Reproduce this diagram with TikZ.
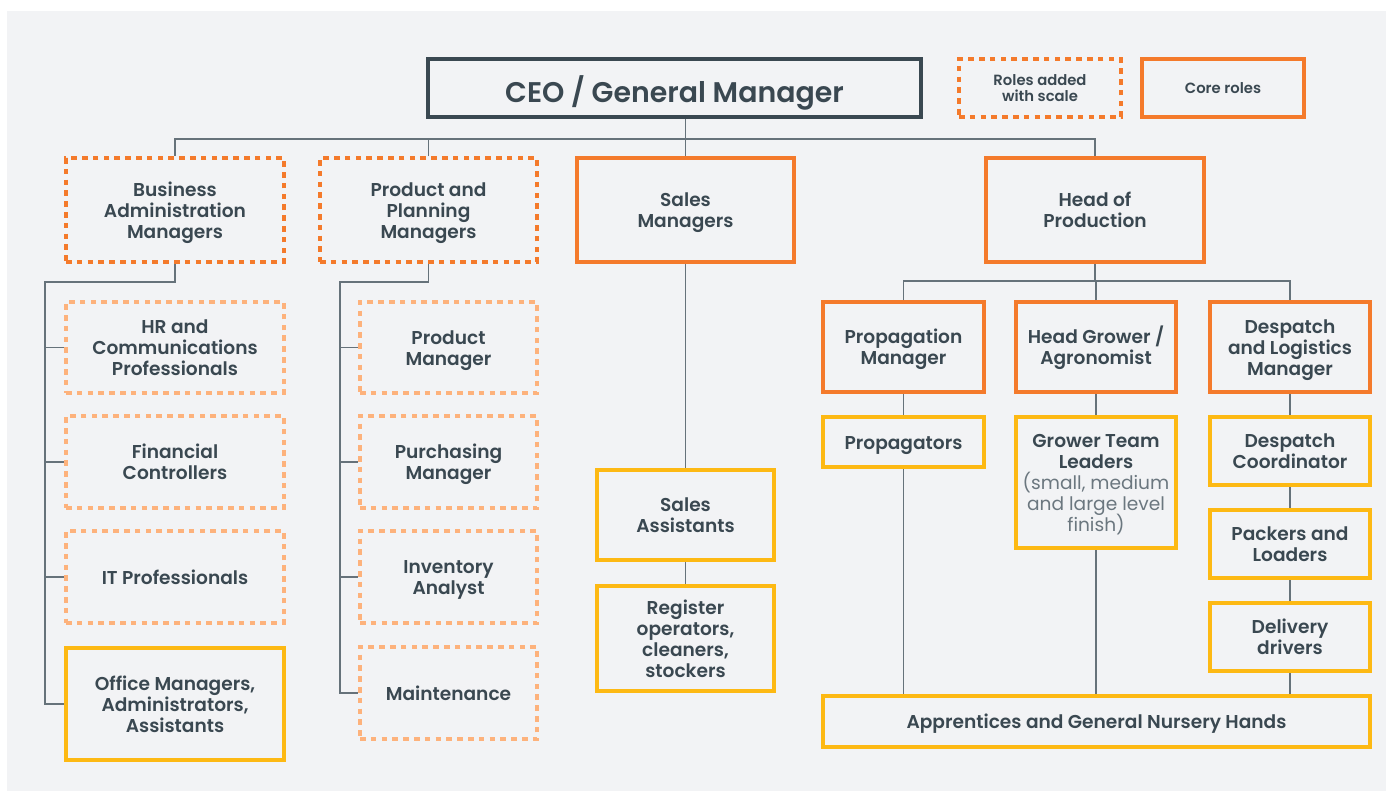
\documentclass[tikz,border=0pt]{standalone}
\usepackage{fontspec}
\setmainfont{Poppins}[BoldFont={* SemiBold}]
\definecolor{ink}{HTML}{3A4851}
\definecolor{muted}{HTML}{6B777F}
\definecolor{coreorange}{HTML}{F47A2B}
\definecolor{peach}{HTML}{FDB27C}
\definecolor{gold}{HTML}{FDB913}
\definecolor{linegray}{HTML}{66727A}
\definecolor{panel}{HTML}{F2F3F5}
\newcommand\bodyfont{\fontsize{9.3}{10.5}\selectfont\bfseries}
\newcommand\detail[1]{{\mdseries\color{muted}#1}}
% fixed first-line height and last-line depth, so every text block centres the same way
\newcommand\tophold{\rule{0pt}{1.12em}}
\newcommand\bothold{\rule[-0.35em]{0pt}{0.35em}}
% place a named box by its corner coordinates (in pixels)
\newcommand\orgbox[7]{%
  \pgfmathsetmacro\bw{(#5-#3)*0.5}\pgfmathsetmacro\bh{(#6-#4)*0.5}%
  \node[#2, minimum width=\bw pt, minimum height=\bh pt] (#1) at ({(#3+#5)/2},{(#4+#6)/2}) {\tophold#7\bothold};}
\begin{document}
\begin{tikzpicture}[x=0.5pt,y=-0.5pt,
  base/.style={align=center, text=ink, font=\bodyfont, inner sep=0pt},
  ceobox/.style={base, draw=ink, line width=1.7pt, font=\fontsize{14.2}{16}\selectfont\bfseries},
  core/.style={base, draw=coreorange, line width=2pt},
  scaled/.style={base, draw=coreorange, line width=2pt, dash pattern=on 2.8pt off 2.6pt},
  scaledsub/.style={scaled, draw=peach},
  staff/.style={base, draw=gold, line width=2pt},
  legendtxt/.style={font=\fontsize{7.4}{8}\selectfont\bfseries},
  conn/.style={draw=linegray, line width=0.7pt}]
\useasboundingbox (0,0) rectangle (1392,794);
\fill[panel] (7,11) rectangle (1386,791);

% top level and legend
\orgbox{ceo}{ceobox}{428}{59}{921}{117}{\rule{0pt}{1.36em}CEO / General Manager}
\orgbox{lgscale}{scaled,legendtxt}{959}{59}{1121}{117}{Roles added\\with scale}
\orgbox{lgcore}{core,legendtxt}{1142}{59}{1304}{117}{Core roles}

% managers
\orgbox{ba}{scaled}{66}{158}{284}{262}{Business\\Administration\\Managers}
\orgbox{pp}{scaled}{320}{158}{537}{262}{Product and\\Planning\\Managers}
\orgbox{sm}{core}{577}{158}{794}{262}{Sales\\Managers}
\orgbox{hp}{core}{986}{158}{1204}{262}{Head of\\Production}

% business administration team
\orgbox{hr}{scaledsub}{66}{302}{284}{393}{HR and\\Communications\\Professionals}
\orgbox{fin}{scaledsub}{66}{416}{284}{508}{Financial\\Controllers}
\orgbox{it}{scaledsub}{66}{531}{284}{623}{IT Professionals}
\orgbox{off}{staff}{66}{648}{284}{760}{Office Managers,\\Administrators,\\Assistants}

% product and planning team
\orgbox{pm}{scaledsub}{360}{302}{537}{393}{Product\\Manager}
\orgbox{pur}{scaledsub}{360}{416}{537}{508}{Purchasing\\Manager}
\orgbox{inv}{scaledsub}{360}{531}{537}{623}{Inventory\\Analyst}
\orgbox{mnt}{scaledsub}{360}{647}{537}{739}{Maintenance}

% sales team
\orgbox{sa}{staff}{597}{470}{774}{560}{Sales\\Assistants}
\orgbox{reg}{staff}{597}{586}{774}{691}{Register\\operators,\\cleaners,\\stockers}

% production team
\orgbox{prm}{core}{823}{302}{984}{392}{Propagation\\Manager}
\orgbox{hg}{core}{1016}{302}{1176}{392}{Head Grower /\\Agronomist}
\orgbox{dlm}{core}{1210}{302}{1370}{392}{Despatch\\and Logistics\\Manager}
\orgbox{prp}{staff}{823}{417}{984}{467}{Propagators}
\orgbox{gtl}{staff}{1016}{417}{1176}{548}{Grower Team\\Leaders\\\detail{\smash{(}small, medium}\\\detail{and large level}\\\detail{finish\smash{)}}}
\orgbox{dc}{staff}{1210}{417}{1370}{485}{Despatch\\Coordinator}
\orgbox{pl}{staff}{1210}{510}{1370}{578}{Packers and\\Loaders}
\orgbox{dd}{staff}{1210}{603}{1370}{671}{Delivery\\drivers}
\orgbox{app}{staff}{823}{696}{1370}{747}{Apprentices and General Nursery Hands}

% connectors: top level
\coordinate (bus) at (0,139);
\draw[conn] (sm.north |- ceo.south) -- (sm.north |- bus);
\draw[conn] (ba.north) -- (ba.north |- bus) -- (hp.north |- bus) -- (hp.north);
\draw[conn] (pp.north) -- (pp.north |- bus);
\draw[conn] (sm.north) -- (sm.north |- bus);

% business administration spine
\coordinate (bsp) at (45,282);
\draw[conn] (ba.south) |- (bsp) -- (bsp |- off.west) -- (off.west);
\foreach \n in {hr,fin,it} \draw[conn] (bsp |- \n.west) -- (\n.west);

% product and planning spine
\coordinate (psp) at (340,282);
\draw[conn] (pp.south) |- (psp) -- (psp |- mnt.west) -- (mnt.west);
\foreach \n in {pm,pur,inv} \draw[conn] (psp |- \n.west) -- (\n.west);

% sales chain
\draw[conn] (sm.south) -- (sa.north);
\draw[conn] (sa.south) -- (reg.north);

% production
\coordinate (hbus) at (0,281);
\draw[conn] (hp.south) -- (hp.south |- hbus);
\draw[conn] (prm.north) -- (prm.north |- hbus) -- (dlm.north |- hbus) -- (dlm.north);
\draw[conn] (hg.north) -- (hg.north |- hbus);
\draw[conn] (prm.south) -- (prp.north);
\draw[conn] (prp.south) -- (prp.south |- app.north);
\draw[conn] (hg.south) -- (gtl.north);
\draw[conn] (gtl.south) -- (gtl.south |- app.north);
\draw[conn] (dlm.south) -- (dc.north);
\draw[conn] (dc.south) -- (pl.north);
\draw[conn] (pl.south) -- (dd.north);
\draw[conn] (dd.south) -- (dd.south |- app.north);
\end{tikzpicture}
\end{document}
